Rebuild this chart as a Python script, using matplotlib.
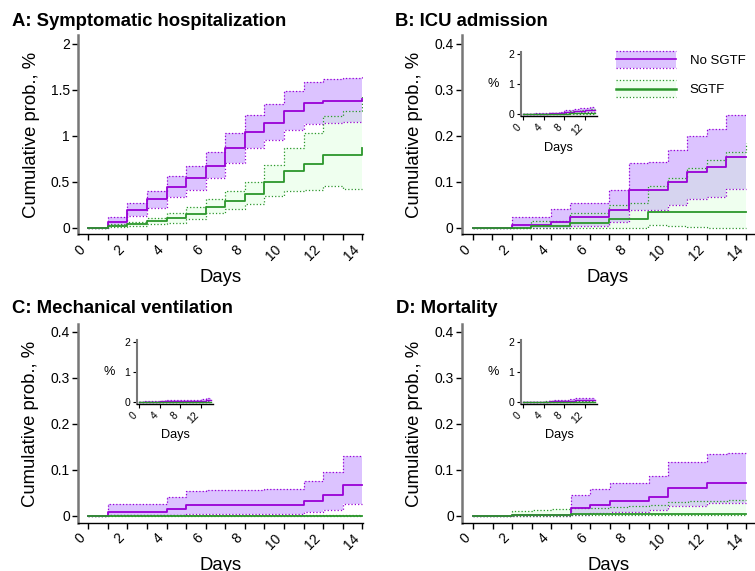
import numpy as np
import matplotlib.pyplot as plt
from matplotlib.legend_handler import HandlerBase
from matplotlib.lines import Line2D
from matplotlib.patches import Rectangle

plt.rcParams['font.family'] = ['Liberation Sans', 'DejaVu Sans']

# days 0..14, value at day i holds from i to i+1 (Kaplan-Meier style steps)
days = np.arange(15)

# A: Symptomatic hospitalization
a_nosgtf = [0, 0.069, 0.199, 0.31, 0.444, 0.538, 0.675, 0.866, 1.047, 1.144, 1.271, 1.357, 1.375, 1.375, 1.40]
a_nosgtf_lo = [0, 0.032, 0.134, 0.22, 0.336, 0.415, 0.538, 0.708, 0.87, 0.96, 1.065, 1.13, 1.144, 1.148, 1.148]
a_nosgtf_hi = [0, 0.116, 0.274, 0.404, 0.56, 0.668, 0.82, 1.032, 1.231, 1.35, 1.49, 1.59, 1.617, 1.625, 1.66]
a_sgtf = [0, 0.022, 0.043, 0.072, 0.105, 0.155, 0.231, 0.296, 0.372, 0.495, 0.614, 0.69, 0.787, 0.787, 0.87]
a_sgtf_lo = [0, 0.011, 0.022, 0.04, 0.058, 0.10, 0.159, 0.209, 0.264, 0.343, 0.397, 0.415, 0.451, 0.419, 0.419]
a_sgtf_hi = [0, 0.04, 0.065, 0.112, 0.162, 0.231, 0.314, 0.404, 0.502, 0.679, 0.87, 1.032, 1.213, 1.271, 1.437]

# B: ICU admission
b_nosgtf = [0, 0, 0.006, 0.006, 0.014, 0.023, 0.023, 0.040, 0.082, 0.082, 0.10, 0.122, 0.132, 0.154, 0.154]
b_nosgtf_lo = [0, 0, 0, 0, 0, 0.004, 0.004, 0.012, 0.04, 0.04, 0.049, 0.063, 0.068, 0.084, 0.084]
b_nosgtf_hi = [0, 0, 0.024, 0.024, 0.042, 0.055, 0.055, 0.082, 0.142, 0.144, 0.17, 0.20, 0.214, 0.245, 0.248]
b_sgtf = [0, 0, 0, 0.004, 0.004, 0.011, 0.011, 0.019, 0.019, 0.035, 0.035, 0.035, 0.035, 0.035, 0.035]
b_sgtf_lo = [0, 0, 0, 0.001, 0.001, 0.001, 0.001, 0.001, 0.001, 0.006, 0.004, 0.002, 0.001, 0.001, 0.001]
b_sgtf_hi = [0, 0, 0, 0.016, 0.016, 0.033, 0.033, 0.05, 0.055, 0.091, 0.109, 0.13, 0.147, 0.164, 0.184]

# C: Mechanical ventilation
c_nosgtf = [0, 0.007, 0.007, 0.007, 0.014, 0.023, 0.023, 0.023, 0.023, 0.023, 0.023, 0.033, 0.044, 0.066, 0.066]
c_nosgtf_lo = [0, 0.001, 0.001, 0.001, 0.002, 0.004, 0.004, 0.004, 0.004, 0.004, 0.004, 0.008, 0.012, 0.025, 0.025]
c_nosgtf_hi = [0, 0.025, 0.025, 0.025, 0.041, 0.054, 0.055, 0.055, 0.056, 0.057, 0.058, 0.076, 0.094, 0.129, 0.129]
c_sgtf = [0] * 15
c_sgtf_lo = [0] * 15
c_sgtf_hi = [0, 0.001, 0.001, 0.001, 0.001, 0.001, 0.001, 0.001, 0.001, 0.001, 0.001, 0.001, 0.001, 0.001, 0.001]

# D: Mortality
d_nosgtf = [0, 0, 0.001, 0.001, 0.001, 0.016, 0.024, 0.032, 0.032, 0.041, 0.06, 0.06, 0.071, 0.071, 0.071]
d_nosgtf_lo = [0, 0, 0, 0, 0, 0.001, 0.005, 0.009, 0.009, 0.012, 0.022, 0.022, 0.028, 0.028, 0.028]
d_nosgtf_hi = [0, 0, 0.002, 0.002, 0.002, 0.045, 0.058, 0.071, 0.071, 0.087, 0.116, 0.116, 0.135, 0.137, 0.137]
d_sgtf = [0, 0, 0.001, 0.001, 0.001, 0.003, 0.003, 0.003, 0.003, 0.003, 0.003, 0.003, 0.003, 0.003, 0.003]
d_sgtf_lo = [0, 0, 0, 0, 0, 0.001, 0.001, 0.001, 0.001, 0.001, 0.001, 0.001, 0.001, 0.001, 0.001]
d_sgtf_hi = [0, 0, 0.010, 0.012, 0.014, 0.016, 0.017, 0.019, 0.021, 0.024, 0.029, 0.031, 0.033, 0.035, 0.035]

titles = ['A: Symptomatic hospitalization', 'B: ICU admission',
          'C: Mechanical ventilation', 'D: Mortality']
group_labels = ['No SGTF', 'SGTF']

PURPLE = '#9900d6'
PURPLE_FILL = '#dcc3ff'
GREEN = '#2b962b'
GREEN_FILL = '#caffca'
GREEN_ALPHA = 0.29
W, H = 755, 571

fig = plt.figure(figsize=(W / 100, H / 100), dpi=100)


def px_axes(left, top, right, bottom):
    return fig.add_axes([left / W, 1 - bottom / H, (right - left) / W, (bottom - top) / H])


def draw_curves(ax, p, plo, phi, g, glo, ghi, lw):
    ax.fill_between(days, plo, phi, step='post', color=PURPLE_FILL, lw=0, zorder=1)
    ax.fill_between(days, glo, ghi, step='post', color=GREEN_FILL, alpha=GREEN_ALPHA, lw=0, zorder=2)
    for y in (plo, phi):
        ax.step(days, y, where='post', color=PURPLE, ls=':', lw=0.9, zorder=3)
    for y in (glo, ghi):
        ax.step(days, y, where='post', color=GREEN, ls=':', lw=0.9, zorder=3)
    ax.step(days, p, where='post', color=PURPLE, lw=lw, zorder=4)
    ax.step(days, g, where='post', color=GREEN, lw=lw, zorder=4)


def style_spines(ax):
    for s in ('top', 'right'):
        ax.spines[s].set_visible(False)
    ax.spines['left'].set_color('#777777')
    ax.spines['left'].set_linewidth(1.8)
    ax.spines['bottom'].set_color('black')
    ax.spines['bottom'].set_linewidth(1.0)


def style_main(ax, xlim, ylim, yticks, ylabels):
    ax.set_xlim(*xlim)
    ax.set_ylim(*ylim)
    style_spines(ax)
    ax.set_xticks(range(0, 15, 2))
    ax.set_xticks(range(1, 15, 2), minor=True)
    ax.set_xticklabels([str(d) for d in range(0, 15, 2)], rotation=45, ha='right', va='top')
    ax.set_yticks(yticks)
    ax.set_yticklabels(ylabels)
    ax.tick_params(axis='both', which='both', direction='out', length=4, width=1,
                   labelsize=10, colors='black', pad=2)
    ax.set_xlabel('Days', fontsize=13.3, labelpad=4)
    ax.set_ylabel('Cumulative prob., %', fontsize=13.3, labelpad=8)


def style_inset(ax):
    ax.set_xlim(-0.5, 14.4)
    ax.set_ylim(-0.06, 2.07)
    style_spines(ax)
    ax.spines['left'].set_linewidth(1.5)
    ax.set_xticks([0, 4, 8, 12])
    ax.set_xticklabels(['0', '4', '8', '12'], rotation=45, ha='right', va='top')
    ax.set_yticks([0, 1, 2])
    ax.set_yticklabels(['0', '1', '2'])
    ax.tick_params(axis='both', direction='out', length=3, width=0.8, labelsize=7.5, pad=1.5)
    ax.set_xlabel('Days', fontsize=9.2, labelpad=3)
    ax.set_ylabel('%', fontsize=9.2, rotation=0, ha='right', va='center', labelpad=7)


small_ticks = [0, 0.1, 0.2, 0.3, 0.4]
small_labels = ['0', '0.1', '0.2', '0.3', '0.4']

panels = [
    dict(rect=(78.3, 35, 363.3, 234.3), xlim=(-0.51, 14.05), ylim=(-0.069, 2.095),
         yticks=[0, 0.5, 1, 1.5, 2], ylabels=['0', '0.5', '1', '1.5', '2'],
         data=(a_nosgtf, a_nosgtf_lo, a_nosgtf_hi, a_sgtf, a_sgtf_lo, a_sgtf_hi),
         title_xy=(12, 26), inset=None),
    dict(rect=(462, 35, 754, 234.3), xlim=(-0.55, 14.41), ylim=(-0.0137, 0.419),
         yticks=small_ticks, ylabels=small_labels,
         data=(b_nosgtf, b_nosgtf_lo, b_nosgtf_hi, b_sgtf, b_sgtf_lo, b_sgtf_hi),
         title_xy=(395, 26), inset=(520.7, 51.7, 597, 116)),
    dict(rect=(78.3, 324.3, 363.3, 522.7), xlim=(-0.51, 14.05), ylim=(-0.0152, 0.416),
         yticks=small_ticks, ylabels=small_labels,
         data=(c_nosgtf, c_nosgtf_lo, c_nosgtf_hi, c_sgtf, c_sgtf_lo, c_sgtf_hi),
         title_xy=(12, 313.3), inset=(136.7, 340, 213.3, 403.7)),
    dict(rect=(462.3, 324.3, 754, 522.7), xlim=(-0.55, 14.41), ylim=(-0.0152, 0.416),
         yticks=small_ticks, ylabels=small_labels,
         data=(d_nosgtf, d_nosgtf_lo, d_nosgtf_hi, d_sgtf, d_sgtf_lo, d_sgtf_hi),
         title_xy=(395.7, 313.3), inset=(520.7, 340, 597.3, 403.7)),
]

axes = []
for title, p in zip(titles, panels):
    ax = px_axes(*p['rect'])
    draw_curves(ax, *p['data'], lw=1.3)
    style_main(ax, p['xlim'], p['ylim'], p['yticks'], p['ylabels'])
    fig.text(p['title_xy'][0] / W, 1 - p['title_xy'][1] / H, title, fontsize=13.3,
             fontweight='bold', ha='left', va='baseline')
    if p['inset'] is not None:
        ins = px_axes(*p['inset'])
        draw_curves(ins, *p['data'], lw=1.0)
        style_inset(ins)
    axes.append(ax)


class BandHandler(HandlerBase):
    def __init__(self, line_color, fill_color, fill_alpha, lw):
        super().__init__()
        self.line_color = line_color
        self.fill_color = fill_color
        self.fill_alpha = fill_alpha
        self.lw = lw

    def create_artists(self, legend, orig_handle, xdescent, ydescent, width, height, fontsize, trans):
        x0, y0 = -xdescent, -ydescent
        rect = Rectangle((x0, y0), width, height, facecolor=self.fill_color,
                         alpha=self.fill_alpha, edgecolor='none', transform=trans)
        top = Line2D([x0, x0 + width], [y0 + height] * 2, color=self.line_color,
                     ls=':', lw=0.9, transform=trans)
        bot = Line2D([x0, x0 + width], [y0] * 2, color=self.line_color,
                     ls=':', lw=0.9, transform=trans)
        mid = Line2D([x0, x0 + width], [y0 + height / 2] * 2, color=self.line_color,
                     lw=self.lw, transform=trans)
        return [rect, top, bot, mid]


h1 = Line2D([], [])
h2 = Line2D([], [])
axes[1].legend([h1, h2], group_labels,
               handler_map={h1: BandHandler(PURPLE, PURPLE_FILL, 1.0, 1.2),
                            h2: BandHandler(GREEN, GREEN_FILL, GREEN_ALPHA, 1.8)},
               loc='upper left', bbox_to_anchor=(615.7 / W, 1 - 51 / H),
               bbox_transform=fig.transFigure, frameon=False, fontsize=9.5,
               handlelength=4.6, handleheight=1.6, handletextpad=1.0,
               labelspacing=0.95, borderpad=0, borderaxespad=0)

fig.savefig('out.png', dpi=100)
